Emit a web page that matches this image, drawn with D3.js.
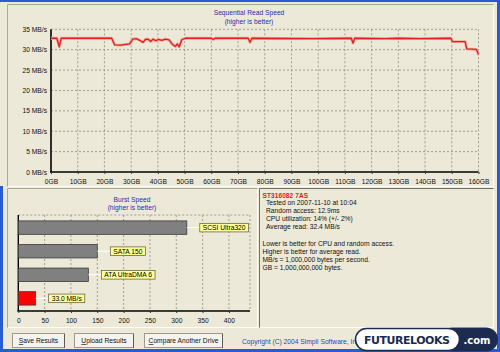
<!DOCTYPE html>
<html lang="en">
<head>
  <meta charset="UTF-8" />
  <title>Sequential Read Speed</title>
  <script src="https://d3js.org/d3.v7.min.js"></script>
  <style>
    body { margin: 0; padding: 0; background: #ECE9D8; }
    svg { display: block; font-family: "Liberation Sans", Arial, sans-serif; }
  </style>
</head>
<body>
  <svg id="chart" width="500" height="352"></svg>

  <script>
    // sequential read: position on disk (GB) and read speed (MB/s)
    const readGB = [0, 2.2, 3.1, 3.8, 22.7, 23.8, 26, 29.4, 30.6, 32, 33.2, 34.4, 35.3, 36.3, 37.3,
      38.2, 39.2, 40.3, 41.5, 42.8, 44.2, 45.3, 46.5, 47.3, 48, 49, 50.3, 60, 60.7, 61.4, 73.8,
      74.5, 75.2, 98, 112.4, 113, 113.7, 125, 130, 138, 149.7, 150.2, 155, 155.6, 159.2, 160];
    const readMBs = [32.8, 32.8, 30.7, 32.8, 32.8, 31.2, 31.1, 31.4, 32.6, 32.7, 32.3, 31.8, 32.5, 32.6, 32.0,
      32.6, 32.2, 32.5, 32.3, 32.6, 32.4, 31.4, 30.8, 31.4, 30.7, 32.5, 32.8, 32.8, 32.5, 32.8, 32.8,
      31.8, 32.8, 32.7, 32.8, 31.6, 32.8, 32.7, 32.8, 32.7, 32.8, 32.0, 32.0, 30.2, 30.1, 28.8];
    const gbTicks = d3.range(0, 170, 10);
    const mbTicks = [0, 5, 10, 15, 20, 25, 30, 35];

    // burst speed
    const burstNames = ["SCSI Ultra320", "SATA 150", "ATA UltraDMA 6", "33.0 MB/s"];
    const burstValues = [320, 150, 133, 33];
    const burstTicks = [0, 50, 100, 150, 200, 250, 300, 350, 400];

    const infoLines = [
      "Tested on 2007-11-10 at 10:04",
      "Random access: 12.9ms",
      "CPU utilization: 14% (+/- 2%)",
      "Average read: 32.4 MB/s",
      "",
      "Lower is better for CPU and random access.",
      "Higher is better for average read.",
      "MB/s = 1,000,000 bytes per second.",
      "GB = 1,000,000,000 bytes."
    ];
    const buttons = ["Save Results", "Upload Results", "Compare Another Drive"];

    const svg = d3.select("#chart");
    const fs = "6.7px";

    // window frame
    svg.append("rect").attr("width", 500).attr("height", 352).attr("fill", "#ECE9D8");
    svg.append("rect").attr("x", 0).attr("y", 0).attr("width", 500).attr("height", 2).attr("fill", "#2A5BD7");
    svg.append("rect").attr("x", 0).attr("y", 186).attr("width", 3).attr("height", 166).attr("fill", "#2A5BD7");
    svg.append("rect").attr("x", 497).attr("y", 0).attr("width", 3).attr("height", 352).attr("fill", "#2A5BD7");
    svg.append("rect").attr("x", 0).attr("y", 349).attr("width", 500).attr("height", 3).attr("fill", "#2A5BD7");

    function panel(x, y, w, h, inset) {
      const dark = "#ACA899", light = "#FFFFFF";
      const g = svg.append("g");
      g.append("path").attr("d", `M${x},${y + h}V${y}H${x + w}`).attr("fill", "none")
        .attr("stroke", inset ? "#716F64" : dark);
      g.append("path").attr("d", `M${x + 1},${y + h}H${x + w}V${y + 1}`).attr("fill", "none")
        .attr("stroke", light);
    }
    panel(7.5, 4.5, 486, 182, false);
    panel(7.5, 188.5, 250, 139, false);
    panel(259.5, 188.5, 234, 139, true);

    // ---------- sequential read chart ----------
    const x = d3.scaleLinear().domain([0, 160]).range([51, 478.5]);
    const y = d3.scaleLinear().domain([0, 35]).range([172, 29.3]);

    svg.append("text").attr("x", 249).attr("y", 14.5).attr("text-anchor", "middle")
      .attr("fill", "#2B2BB0").style("font-size", fs).text("Sequential Read Speed");
    svg.append("text").attr("x", 249).attr("y", 23.5).attr("text-anchor", "middle")
      .attr("fill", "#2B2BB0").style("font-size", fs).text("(higher is better)");

    const grid = svg.append("g").attr("stroke", "#8E8C84").attr("stroke-dasharray", "2,2").attr("stroke-width", 0.8);
    gbTicks.slice(1).forEach(t => {
      grid.append("line").attr("x1", x(t)).attr("x2", x(t)).attr("y1", y(35)).attr("y2", y(0));
    });
    mbTicks.slice(1).forEach(t => {
      grid.append("line").attr("x1", x(0)).attr("x2", x(160)).attr("y1", y(t)).attr("y2", y(t));
    });

    svg.append("line").attr("x1", x(0)).attr("x2", x(0)).attr("y1", y(35)).attr("y2", y(0))
      .attr("stroke", "#000").attr("stroke-width", 1.6);
    svg.append("line").attr("x1", x(0) - 1).attr("x2", x(160)).attr("y1", y(0)).attr("y2", y(0))
      .attr("stroke", "#000").attr("stroke-width", 1.6);

    const xAxis = svg.append("g").attr("transform", `translate(0,${y(0)})`)
      .call(d3.axisBottom(x).tickValues(gbTicks).tickSize(2).tickFormat(d => d + "GB"));
    xAxis.select(".domain").remove();
    xAxis.selectAll("text").attr("dy", 0).attr("y", 11.5).style("font-size", fs).attr("fill", "#111");
    xAxis.selectAll("line").attr("stroke", "#333");

    const yAxis = svg.append("g").attr("transform", `translate(${x(0)},0)`)
      .call(d3.axisLeft(y).tickValues(mbTicks).tickSize(0).tickPadding(4).tickFormat(d => d + " MB/s"));
    yAxis.select(".domain").remove();
    yAxis.selectAll("text").style("font-size", fs).attr("fill", "#111");

    const line = d3.line().x((d, i) => x(readGB[i])).y(d => y(d));
    svg.append("path").datum(readMBs).attr("d", line).attr("fill", "none")
      .attr("stroke", "#F2A6A0").attr("stroke-width", 2.8).attr("stroke-linejoin", "round");
    svg.append("path").datum(readMBs).attr("d", line).attr("fill", "none")
      .attr("stroke", "#E2201E").attr("stroke-width", 1.3).attr("stroke-linejoin", "round");

    // ---------- burst speed chart ----------
    const bx = d3.scaleLinear().domain([0, 440]).range([18.3, 250]);
    const by = d3.scaleBand().domain(burstNames).range([215, 311]).paddingInner(0.43).paddingOuter(0.25);

    svg.append("text").attr("x", 132).attr("y", 201.5).attr("text-anchor", "middle")
      .attr("fill", "#2B2BB0").style("font-size", fs).text("Burst Speed");
    svg.append("text").attr("x", 132).attr("y", 210).attr("text-anchor", "middle")
      .attr("fill", "#2B2BB0").style("font-size", fs).text("(higher is better)");

    const bgrid = svg.append("g").attr("stroke", "#8E8C84").attr("stroke-dasharray", "2,2").attr("stroke-width", 0.8);
    burstTicks.slice(1).concat([440]).forEach(t => {
      bgrid.append("line").attr("x1", bx(t)).attr("x2", bx(t)).attr("y1", 215).attr("y2", 311);
    });
    bgrid.append("line").attr("x1", bx(0)).attr("x2", bx(440)).attr("y1", 215).attr("y2", 215);

    svg.append("line").attr("x1", bx(0)).attr("x2", bx(0)).attr("y1", 215).attr("y2", 311)
      .attr("stroke", "#000").attr("stroke-width", 1.4);
    svg.append("line").attr("x1", bx(0) - 1).attr("x2", bx(440)).attr("y1", 311).attr("y2", 311)
      .attr("stroke", "#000").attr("stroke-width", 1.4);

    const bxAxis = svg.append("g").attr("transform", "translate(0,311)")
      .call(d3.axisBottom(bx).tickValues(burstTicks).tickSize(2));
    bxAxis.select(".domain").remove();
    bxAxis.selectAll("text").attr("dy", 0).attr("y", 11.5).style("font-size", fs).attr("fill", "#111");
    bxAxis.selectAll("line").attr("stroke", "#333");

    const bars = svg.append("g");
    burstNames.forEach((name, i) => {
      const v = burstValues[i];
      const top = by(name), h = by.bandwidth();
      bars.append("rect").attr("x", bx(0)).attr("y", top).attr("width", bx(v) - bx(0)).attr("height", h)
        .attr("fill", i === 3 ? "#FF0000" : "#808080").attr("stroke", "#3A3A3A").attr("stroke-width", 0.8);
      const cy = top + h / 2;
      bars.append("line").attr("x1", bx(v)).attr("x2", bx(v) + 13).attr("y1", cy).attr("y2", cy)
        .attr("stroke", "#FFFFFF").attr("stroke-width", 1);
      const t = bars.append("text").attr("x", bx(v) + 16).attr("y", cy + 2.4)
        .style("font-size", fs).attr("fill", "#000").text(name);
      const wdt = t.node().getComputedTextLength();
      bars.insert("rect", "text:last-of-type").attr("x", bx(v) + 13).attr("y", cy - 4.3)
        .attr("width", wdt + 6).attr("height", 8.6).attr("fill", "#FFFF99")
        .attr("stroke", "#55553A").attr("stroke-width", 0.7);
    });

    // ---------- info text ----------
    svg.append("text").attr("x", 262.5).attr("y", 197.5).attr("fill", "#E01818")
      .style("font-size", "6.5px").style("font-weight", "bold").style("letter-spacing", "0.1px").text("ST316082 7AS");
    infoLines.forEach((s, i) => {
      svg.append("text").attr("x", i < 4 ? 266 : 262.5).attr("y", 205 + i * 8.1)
        .style("font-size", fs).attr("fill", "#111").text(s);
    });

    // ---------- buttons ----------
    const btnX = [12, 74, 144], btnW = [52, 59, 78];
    buttons.forEach((b, i) => {
      svg.append("rect").attr("x", btnX[i] + 0.5).attr("y", 333.5).attr("width", btnW[i]).attr("height", 14)
        .attr("fill", "#F4F3EE").attr("stroke", "#9D9A8C");
      svg.append("line").attr("x1", btnX[i] + btnW[i] + 0.5).attr("x2", btnX[i] + btnW[i] + 0.5)
        .attr("y1", 334).attr("y2", 348).attr("stroke", "#5E5C55");
      const t = svg.append("text").attr("x", btnX[i] + 0.5 + btnW[i] / 2).attr("y", 343.2)
        .attr("text-anchor", "middle").style("font-size", fs).attr("fill", "#111");
      t.append("tspan").style("text-decoration", "underline").text(b[0]);
      t.append("tspan").text(b.slice(1));
    });
    svg.append("text").attr("x", 242).attr("y", 344).attr("fill", "#2447C0")
      .style("font-size", fs).text("Copyright (C) 2004 Simpli Software, Inc.");

    // ---------- logo ----------
    const logo = svg.append("g");
    logo.append("rect").attr("x", 440).attr("y", 327.5).attr("width", 58).attr("height", 24)
      .attr("rx", 12).attr("fill", "#1C2B4F");
    logo.append("rect").attr("x", 355.5).attr("y", 328.5).attr("width", 104).attr("height", 22)
      .attr("rx", 11).attr("fill", "#FFFFFF").attr("stroke", "#1C2B4F").attr("stroke-width", 1.5);
    logo.append("text").attr("x", 407).attr("y", 343.5).attr("text-anchor", "middle")
      .attr("fill", "#1C2B4F").style("font-size", "11px").style("font-weight", "bold")
      .style("font-family", "'DejaVu Sans', sans-serif").attr("textLength", 86).text("FUTURELOOKS");
    logo.append("text").attr("x", 477).attr("y", 343.5).attr("text-anchor", "middle")
      .attr("fill", "#FFFFFF").style("font-size", "10px").style("font-weight", "bold")
      .style("font-family", "'DejaVu Sans', sans-serif").text(".com");
  </script>
</body>
</html>
